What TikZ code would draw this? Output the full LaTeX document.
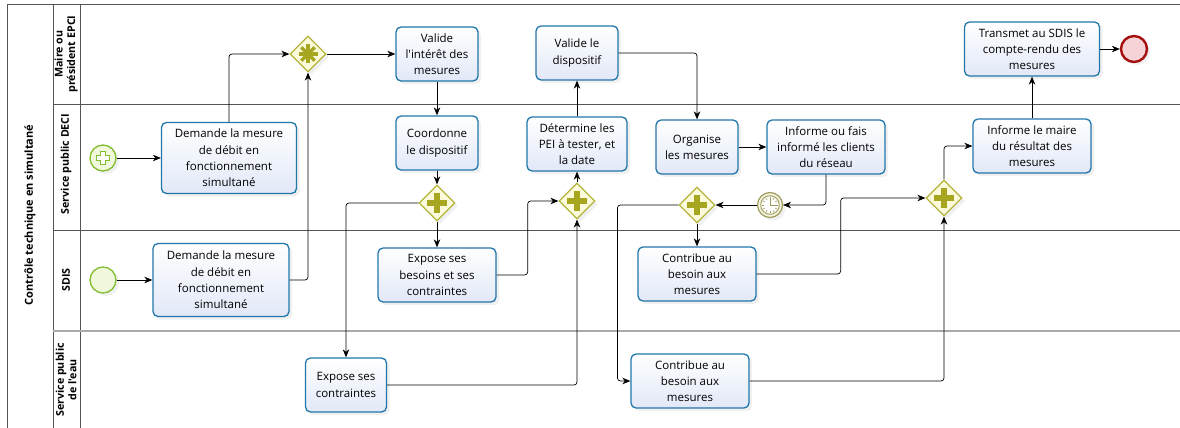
\documentclass[tikz,border=0pt]{standalone}
\usepackage{fontspec}
\setmainfont{Open Sans}[Ligatures=TeXOff]
\usetikzlibrary{positioning, arrows.meta, shapes.geometric, shadows}

\definecolor{taskline}{HTML}{2277AA}
\definecolor{taskfill}{HTML}{E2E8F8}
\definecolor{gwline}{HTML}{B4B43C}
\definecolor{gwfill}{HTML}{FBFBDC}
\definecolor{gwmark}{HTML}{A6A620}
\definecolor{startline}{HTML}{82BE2E}
\definecolor{startfill}{HTML}{EFF8DA}
\definecolor{endline}{HTML}{A50F0F}
\definecolor{endfill}{HTML}{F5D3D6}
\definecolor{timerline}{HTML}{9E9C5A}
\definecolor{timerfill}{HTML}{F3F2DE}
\definecolor{laneline}{HTML}{555555}
\definecolor{lanelight}{HTML}{AAAAAA}

\tikzset{
  softshadow/.style={drop shadow={shadow xshift=3pt, shadow yshift=-3pt, opacity=0.12}},
  task/.style={rectangle, rounded corners=5pt, draw=taskline, line width=1.3pt,
    top color=white, bottom color=taskfill, align=center, inner sep=1pt,
    minimum height=54pt, font=\fontsize{11.5}{16.3}\selectfont, softshadow},
  gateway/.style={diamond, draw=gwline, line width=1.2pt, fill=gwfill,
    minimum size=36pt, inner sep=0pt, softshadow},
  startev/.style={circle, draw=startline, line width=1.3pt, fill=startfill,
    minimum size=26pt, inner sep=0pt, softshadow},
  endev/.style={circle, draw=endline, line width=2.4pt, fill=endfill,
    minimum size=26pt, inner sep=0pt, softshadow},
  timerev/.style={circle, draw=timerline, line width=1.2pt, fill=timerfill,
    minimum size=25pt, inner sep=0pt, softshadow},
  lanelabel/.style={rotate=90, align=center, font=\bfseries\fontsize{10.7}{12.5}\selectfont},
  flow/.style={-{Stealth[length=8pt, width=6.5pt, inset=2.5pt]}, rounded corners=3pt, line width=0.7pt},
  plusmark/.pic={
    \fill[gwmark] (-10,-3) rectangle (10,3);
    \fill[gwmark] (-3,-10) rectangle (3,10);},
  starmark/.pic={
    \foreach \a in {0,45,90,135}
      \draw[gwmark, line width=3.5pt] (\a:9.5) -- (\a+180:9.5);},
  startplus/.pic={
    \draw[startline, line width=1pt, fill=white] (-2.5,-6.5) -- (2.5,-6.5) -- (2.5,-2.5) -- (6.5,-2.5)
      -- (6.5,2.5) -- (2.5,2.5) -- (2.5,6.5) -- (-2.5,6.5) -- (-2.5,2.5) -- (-6.5,2.5)
      -- (-6.5,-2.5) -- (-2.5,-2.5) -- cycle;},
  clockmark/.pic={
    \draw[timerline, line width=0.9pt, fill=white] (0,0) circle (9.3);
    \foreach \a in {0,30,...,330}
      \draw[timerline, line width=0.6pt] (\a:6) -- (\a:8);
    \draw[timerline, line width=0.9pt] (0,-6.5) -- (0,0) -- (5.5,0);}
}

\begin{document}
\begin{tikzpicture}[x=1pt, y=-1pt, node distance=2.5cm, on grid]
    \useasboundingbox (0,0) rectangle (1180,428);

    % pool and lanes
    \draw[laneline, line width=0.9pt] (7,428) -- (7,4) -- (1180,4);
    \draw[laneline, line width=0.9pt] (53,4) -- (53,428);
    \draw[laneline, line width=0.9pt] (80,4) -- (80,428);
    \draw[laneline, line width=0.9pt] (53,104) -- (1180,104);
    \draw[laneline, line width=0.9pt] (53,230) -- (1180,230);
    \draw[lanelight, line width=1.6pt] (53,331) -- (1180,331);

    \node[lanelabel, font=\bfseries\fontsize{11}{13}\selectfont] (pool) at (30,215) {Contrôle technique en simultané};
    \node[lanelabel] (lmaire) at (66,54) {Maire ou\\président EPCI};
    \node[lanelabel] (ldeci) at (66,164) {Service public DECI};
    \node[lanelabel] (lsdis) at (66,280) {SDIS};
    \node[lanelabel] (leau) at (66,380) {Service public\\de l'eau};

    % events, tasks and gateways
    \node[startev] (debdeci) at (103,158) {};
    \pic at (debdeci) {startplus};
    \node[task, minimum width=135pt, minimum height=71pt] (demdeci) at (229,158) {Demande la mesure\\de débit en\\fonctionnement\\simultané};
    \node[startev] (debsdis) at (103,280) {};
    \node[task, minimum width=136pt, minimum height=73pt] (demsdis) at (221,280) {Demande la mesure\\de débit en\\fonctionnement\\simultané};
    \node[gateway] (gwcplx) at (308,54) {};
    \pic at (gwcplx) {starmark};
    \node[task, minimum width=82pt] (valint) at (437,54) {Valide\\l'intérêt des\\mesures};
    \node[task, minimum width=82pt] (coordonne) [below=89pt of valint] {Coordonne\\le dispositif};
    \node[gateway] (gwpar1) [below=60pt of coordonne] {};
    \pic at (gwpar1) {plusmark};
    \node[task, minimum width=118pt] (expbes) at (437,275) {Expose ses\\besoins et ses\\contraintes};
    \node[task, minimum width=81pt] (expcon) at (346,385) {Expose ses\\contraintes};
    \node[gateway] (gwpar2) at (577,201) {};
    \pic at (gwpar2) {plusmark};
    \node[task, minimum width=100pt] (determ) at (577,144) {Détermine les\\PEI à tester, et\\la date};
    \node[task, minimum width=82pt] (validisp) at (577,53) {Valide le\\dispositif};
    \node[task, minimum width=82pt] (organise) at (697,147) {Organise\\les mesures};
    \node[task, minimum width=118pt] (informcl) at (826,147) {Informe ou fais\\informé les clients\\du réseau};
    \node[timerev] (attente) at (770,205) {};
    \pic at (attente) {clockmark};
    \node[gateway] (gwpar3) at (697,205) {};
    \pic at (gwpar3) {plusmark};
    \node[task, minimum width=118pt] (contsdis) at (697,274) {Contribue au\\besoin aux\\mesures};
    \node[task, minimum width=118pt] (conteau) at (690,381) {Contribue au\\besoin aux\\mesures};
    \node[gateway] (gwpar4) at (944,198) {};
    \pic at (gwpar4) {plusmark};
    \node[task, minimum width=118pt] (informm) at (1032,146) {Informe le maire\\du résultat des\\mesures};
    \node[task, minimum width=135pt] (transmet) at (1032,49) {Transmet au SDIS le\\compte-rendu des\\mesures};
    \node[endev] (fin) [right=102pt of transmet] {};

    % sequence flows
    \draw[flow] (debdeci) -- (demdeci);
    \draw[flow] (debsdis) -- (demsdis);
    \draw[flow] (demdeci.north) |- (gwcplx);
    \draw[flow] (demsdis.east) -| (gwcplx);
    \draw[flow] (gwcplx) -- (valint);
    \draw[flow] (valint) -- (coordonne);
    \draw[flow] (coordonne) -- (gwpar1);
    \draw[flow] (gwpar1) -- (expbes);
    \draw[flow] (gwpar1) -| (expcon);
    \draw[flow] (expbes.east) -- ++(31,0) |- (gwpar2);
    \draw[flow] (expcon) -| (gwpar2);
    \draw[flow] (gwpar2) -- (determ);
    \draw[flow] (determ) -- (validisp);
    \draw[flow] (validisp) -| (organise);
    \draw[flow] (organise) -- (informcl);
    \draw[flow] (informcl.south) |- (attente);
    \draw[flow] (attente) -- (gwpar3);
    \draw[flow] (gwpar3) -- (contsdis);
    \draw[flow] (gwpar3.west) -- ++(-61,0) |- (conteau);
    \draw[flow] (contsdis.east) -- ++(84,0) |- (gwpar4);
    \draw[flow] (conteau) -| (gwpar4);
    \draw[flow] (gwpar4) |- (informm);
    \draw[flow] (informm) -- (transmet);
    \draw[flow] (transmet) -- (fin);
\end{tikzpicture}
\end{document}
